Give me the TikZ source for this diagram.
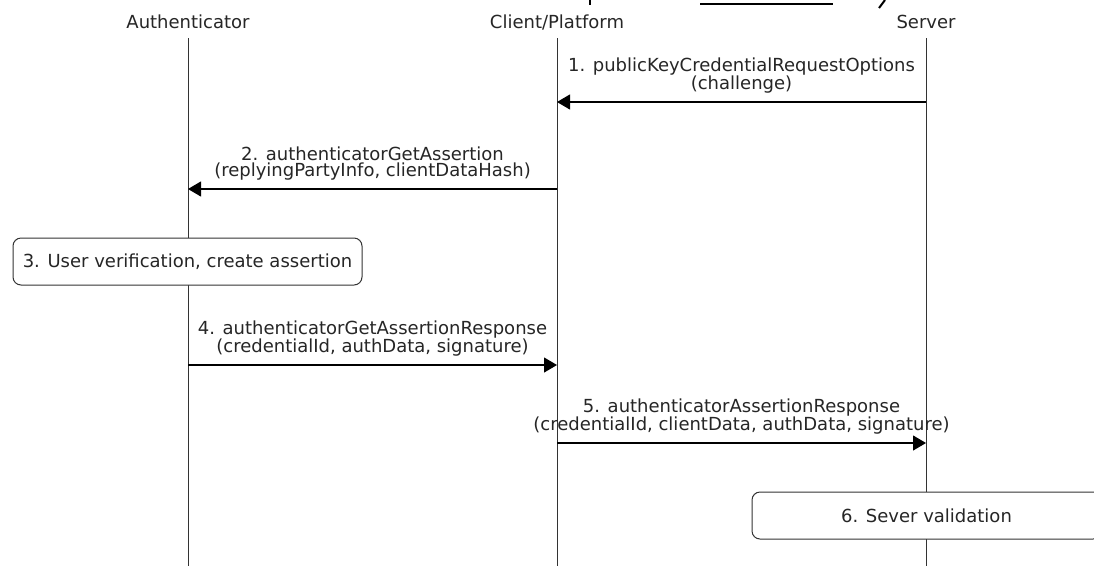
\documentclass[tikz,border=0pt]{standalone}
\usepackage{fontspec}
\setmainfont{DejaVu Sans}
\usetikzlibrary{arrows.meta}
\begin{document}
\begin{tikzpicture}[x=1pt,y=-1pt,
  txt/.style={font=\fontsize{18}{16}\selectfont, text=black!85},
  hdr/.style={txt, anchor=base, inner sep=0pt},
  lifeline/.style={draw=black!80, line width=1pt},
  msg/.style={draw=black, line width=1.1pt, -{Triangle[length=13pt,width=15pt]}},
  lbl/.style={txt, align=center, anchor=south, inner sep=0pt, yshift=8pt},
  actbox/.style={txt, draw=black!80, line width=1pt, fill=white, rounded corners=8pt,
    minimum width=349pt, minimum height=47pt, inner sep=0pt},
  frag/.style={draw=black, line width=2pt}
]
\clip (0,0) rectangle (1094,566);
\fill[white] (0,0) rectangle (1094,566);

% cut-off title fragments
\draw[frag] (590,0) -- (590,5);
\draw[frag] (700,4) -- (833,4);
\draw[frag] (885,0) -- (879,8);

% headers
\node[hdr] (auth) at (188,28) {Authenticator};
\node[hdr] (client) at (557,28) {Client/Platform};
\node[hdr] (server) at (926,28) {Server};

% lifelines
\coordinate (aT) at (188,38); \coordinate (aB) at (188,566);
\coordinate (cT) at (557,38); \coordinate (cB) at (557,566);
\coordinate (sT) at (926,38); \coordinate (sB) at (926,566);
\draw[lifeline] (aT) -- (aB);
\draw[lifeline] (cT) -- (cB);
\draw[lifeline] (sT) -- (sB);

% message 1
\coordinate (s1) at (926,102); \coordinate (c1) at (557,102);
\draw[msg] (s1) -- (c1) node[midway, lbl] (l1) {1. publicKeyCredentialRequestOptions\\(challenge)};

% message 2
\coordinate (c2) at (557,189); \coordinate (a2) at (188,189);
\draw[msg] (c2) -- (a2) node[midway, lbl] (l2) {2. authenticatorGetAssertion\\(replyingPartyInfo, clientDataHash)};

% box 3
\node[actbox] (v3) at (187.5,261.5) {3. User verification, create assertion};

% message 4
\coordinate (a4) at (188,365); \coordinate (c4) at (557,365);
\draw[msg] (a4) -- (c4) node[midway, lbl] (l4) {4. authenticatorGetAssertionResponse\\(credentialId, authData, signature)};

% message 5
\coordinate (c5) at (557,443); \coordinate (s5) at (926,443);
\draw[msg] (c5) -- (s5) node[midway, lbl] (l5) {5. authenticatorAssertionResponse\\(credentialId, clientData, authData, signature)};

% box 6
\node[actbox] (v6) at (926.5,515.5) {6. Sever validation};
\end{tikzpicture}
\end{document}
